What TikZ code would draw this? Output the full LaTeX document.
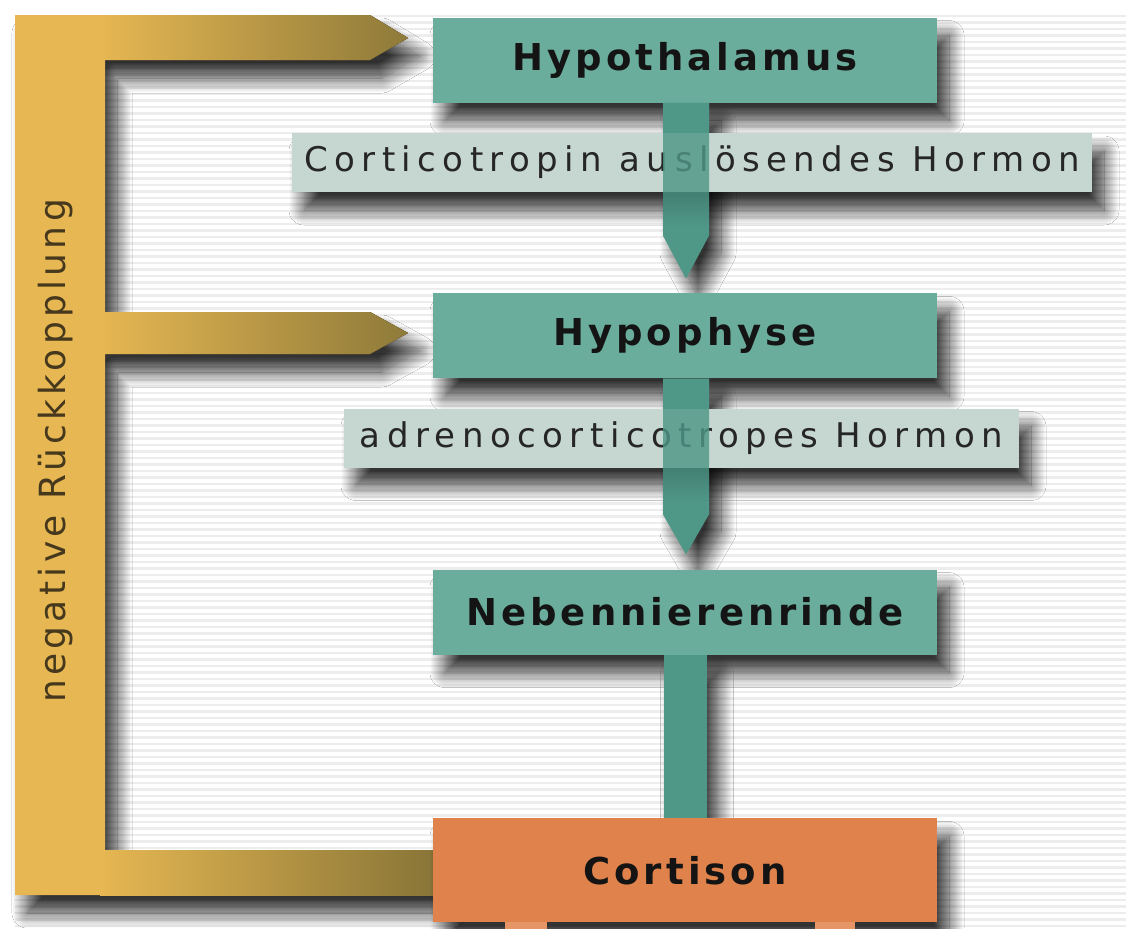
\documentclass[tikz,border=0pt]{standalone}
\usepackage{fontspec}
\usetikzlibrary{shadows.blur,calc}
\newfontfamily\titlefont[LetterSpace=11]{DejaVu Sans}
\newfontfamily\labelfont[LetterSpace=19]{DejaVu Sans}
\newfontfamily\fbfont[LetterSpace=12]{DejaVu Sans}
\definecolor{teal1}{HTML}{6BAD9C}
\definecolor{teal2}{HTML}{4F9787}
\definecolor{labelbg}{HTML}{C6D6D0}
\definecolor{orange1}{HTML}{E0824B}
\definecolor{gold1}{HTML}{E6B752}
\definecolor{gold2}{HTML}{8E7A3A}
\definecolor{fbtext}{HTML}{45381C}
\begin{document}
\begin{tikzpicture}[x=0.5pt,y=-0.5pt,
  shad/.style={blur shadow={shadow xshift=6pt,shadow yshift=-9pt,shadow blur radius=7.5pt,shadow blur steps=20,shadow opacity=80}},
  organ/.style={rectangle, fill=teal1, minimum width=252pt, minimum height=42.5pt, inner sep=0pt,
    font=\titlefont\bfseries\fontsize{18.5}{20}\selectfont, text=black!92, shad},
  hormone/.style={rectangle, fill=labelbg, minimum height=29.5pt, inner sep=0pt,
    font=\labelfont\fontsize{17}{19}\selectfont, text=black!85, shad},
  stripe/.style={draw=black!7, line width=1.4pt},
  shaft/.style={fill=teal2},
  arm/.style={left color=gold1, right color=gold2},
]
\useasboundingbox (0,0) rectangle (1126,928);
\fill[white] (0,0) rectangle (1126,928);
\foreach \i in {0,...,140} \draw[stripe] (15,{16+\i*6.5}) -- (1126,{16+\i*6.5});

% feedback bracket (drawn first, lies below all boxes)
\coordinate (tip1) at (408,38);
\coordinate (tip2) at (408,333);
\coordinate (fbend) at (440,872);
\path[shad, fill=gold1]
  (15,15) -- ($(tip1)+(-38,-23)$) -- (tip1) -- ($(tip1)+(-38,22)$) -- (105,60)
  -- (105,312) -- ($(tip2)+(-38,-21)$) -- (tip2) -- ($(tip2)+(-38,21)$) -- (105,354)
  -- (105,850) -- ($(fbend)+(0,-22)$) -- ($(fbend)+(0,23)$) -- (15,895) -- cycle;
\fill[arm] (100,15) -- ($(tip1)+(-38,-23)$) -- (tip1) -- ($(tip1)+(-38,22)$) -- (100,60) -- cycle;
\fill[arm] (100,312) -- ($(tip2)+(-38,-21)$) -- (tip2) -- ($(tip2)+(-38,21)$) -- (100,354) -- cycle;
\fill[left color=gold1, right color=gold2!95!black] (100,850) rectangle ($(fbend)+(0,23)$);
\fill[gold1] (15,15) rectangle (105,895);
\node[rotate=90, font=\fbfont\fontsize{18}{20}\selectfont, text=fbtext, inner sep=0pt] (fb) at (56,451) {negative Rückkopplung};

% Hypothalamus and first arrow
\node[organ] (hyp) at (685,60) {Hypothalamus};
\coordinate (t1) at ($(hyp.south)+(1,175.5)$);
\path[shaft, shad] ($(hyp.south)+(-22,0)$) -- ($(hyp.south)+(24,0)$) -- ($(t1)+(23,-43)$) -- (t1) -- ($(t1)+(-23,-43)$) -- cycle;

% Hypophyse and second arrow
\node[organ, anchor=north] (hpy) at ($(t1)+(-1,14.5)$) {Hypophyse};
\coordinate (t2) at ($(hpy.south)+(1,175.5)$);
\path[shaft, shad] ($(hpy.south)+(-22,0)$) -- ($(hpy.south)+(24,0)$) -- ($(t2)+(23,-40)$) -- (t2) -- ($(t2)+(-23,-40)$) -- cycle;

% Nebennierenrinde and connector to Cortison
\node[organ, anchor=north] (nnr) at ($(t2)+(-1,15)$) {Nebennierenrinde};
\coordinate (c3) at ($(nnr.south)+(0,163)$);
\path[shaft, shad] ($(nnr.south)+(-21.5,0)$) rectangle ($(c3)+(21.5,0)$);

% Cortison
\node[organ, anchor=north, fill=orange1, minimum height=52pt] (cor) at (c3) {Cortison};
\fill[orange1!85!white] ($(cor.south)+(-180,-1)$) rectangle ($(cor.south)+(-138,8)$);
\fill[orange1!85!white] ($(cor.south)+(130,-1)$) rectangle ($(cor.south)+(170,8)$);

% hormone labels
\node[hormone, minimum width=400pt] (crh) at (692,162.5) {Corticotropin auslösendes Hormon};
\node[hormone, minimum width=337.5pt] (acth) at (681.5,438) {adrenocorticotropes Hormon};

% arrow shafts passing over the labels
\path[shaft, fill opacity=0.82] ($(hyp.south)+(-22,0)$) -- ($(hyp.south)+(24,0)$) -- ($(t1)+(23,-43)$) -- (t1) -- ($(t1)+(-23,-43)$) -- cycle;
\path[shaft, fill opacity=0.82] ($(hpy.south)+(-22,0)$) -- ($(hpy.south)+(24,0)$) -- ($(t2)+(23,-40)$) -- (t2) -- ($(t2)+(-23,-40)$) -- cycle;
\end{tikzpicture}
\end{document}
